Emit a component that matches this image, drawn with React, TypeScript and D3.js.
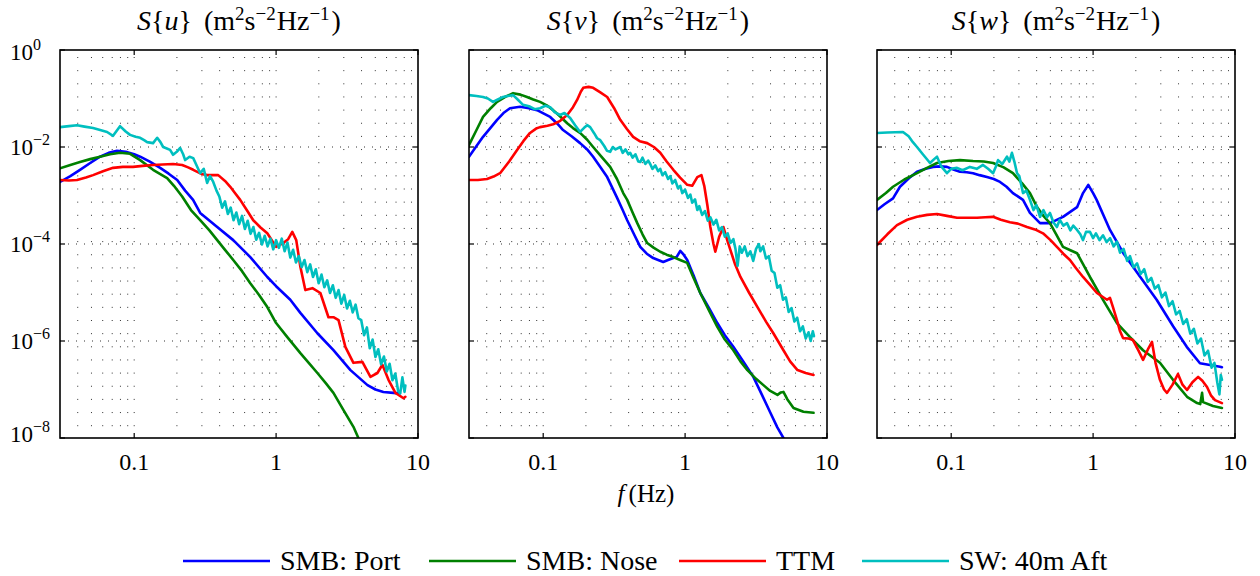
import React from 'react';
import * as d3 from 'd3';

// ---------- chart values ----------
const xTickValues = [0.1, 1, 10];
const xTickLabels = ['0.1', '1', '10'];
const yTickExponents = [0, -2, -4, -6, -8];
const yTickLabels = ['0', '−2', '−4', '−6', '−8'];
const panelVariables = ['u', 'v', 'w'];
const seriesNames = ['SMB: Port', 'SMB: Nose', 'TTM', 'SW: 40m Aft'];
const seriesColors = ['#0000ff', '#008000', '#ff0000', '#00bfbf'];

// Every series: [log10 f (Hz), log10 S] pairs
const uPort: [number, number][] = [[-1.523,-2.72],[-1.45,-2.6],[-1.382,-2.47],[-1.31,-2.33],[-1.241,-2.2],[-1.18,-2.12],[-1.121,-2.08],[-1.06,-2.1],[-1.0,-2.15],[-0.958,-2.2],[-0.89,-2.3],[-0.817,-2.43],[-0.757,-2.55],[-0.697,-2.68],[-0.641,-2.9],[-0.585,-3.09],[-0.535,-3.36],[-0.415,-3.65],[-0.302,-3.92],[-0.182,-4.27],[-0.062,-4.68],[0,-4.87],[0.1,-5.15],[0.171,-5.42],[0.291,-5.84],[0.404,-6.19],[0.524,-6.6],[0.644,-6.91],[0.7,-7.0],[0.756,-7.05],[0.827,-7.07],[0.87,-7.08]];
const uNose: [number, number][] = [[-1.523,-2.44],[-1.45,-2.37],[-1.382,-2.31],[-1.31,-2.25],[-1.241,-2.2],[-1.17,-2.15],[-1.1,-2.12],[-1.029,-2.14],[-0.958,-2.27],[-0.867,-2.47],[-0.768,-2.64],[-0.72,-2.8],[-0.662,-3.02],[-0.6,-3.3],[-0.535,-3.51],[-0.47,-3.72],[-0.415,-3.92],[-0.36,-4.12],[-0.302,-4.33],[-0.24,-4.56],[-0.182,-4.81],[-0.12,-5.05],[-0.062,-5.3],[0,-5.63],[0.079,-5.92],[0.171,-6.25],[0.23,-6.45],[0.291,-6.66],[0.35,-6.87],[0.404,-7.07],[0.474,-7.42],[0.545,-7.77],[0.58,-8.0],[0.62,-8.3]];
const uTTM: [number, number][] = [[-1.523,-2.68],[-1.46,-2.69],[-1.403,-2.68],[-1.34,-2.63],[-1.29,-2.58],[-1.22,-2.5],[-1.149,-2.43],[-1.08,-2.41],[-1.008,-2.41],[-0.94,-2.39],[-0.867,-2.37],[-0.8,-2.36],[-0.726,-2.35],[-0.662,-2.37],[-0.62,-2.42],[-0.584,-2.47],[-0.53,-2.55],[-0.486,-2.58],[-0.408,-2.58],[-0.36,-2.7],[-0.323,-2.82],[-0.29,-2.95],[-0.253,-3.09],[-0.2,-3.33],[-0.161,-3.51],[-0.11,-3.66],[-0.062,-3.78],[0,-4.06],[0.05,-3.98],[0.085,-3.9],[0.114,-3.75],[0.142,-3.92],[0.171,-4.47],[0.206,-4.95],[0.256,-4.91],[0.312,-5.01],[0.369,-5.51],[0.404,-5.51],[0.44,-5.57],[0.488,-6.12],[0.545,-6.45],[0.608,-6.43],[0.665,-6.74],[0.714,-6.66],[0.749,-6.49],[0.792,-6.8],[0.841,-7.07],[0.898,-7.18],[0.911,-7.15]];
const uSW: [number, number][] = [[-1.523,-1.59],[-1.46,-1.57],[-1.403,-1.55],[-1.35,-1.58],[-1.29,-1.61],[-1.24,-1.65],[-1.191,-1.69],[-1.149,-1.77],[-1.1,-1.57],[-1.06,-1.68],[-1.029,-1.75],[-0.99,-1.79],[-0.958,-1.81],[-0.93,-1.86],[-0.909,-1.9],[-0.867,-1.92],[-0.838,-1.81],[-0.815,-1.9],[-0.796,-2.0],[-0.77,-2.03],[-0.747,-2.06],[-0.726,-2.16],[-0.7,-2.1],[-0.676,-2.02],[-0.655,-2.15],[-0.641,-2.27],[-0.61,-2.2],[-0.584,-2.23],[-0.56,-2.38],[-0.535,-2.54],[-0.51,-2.45],[-0.486,-2.74],[-0.465,-2.6],[-0.443,-2.72],[-0.42,-2.9],[-0.40,-3.02],[-0.38,-3.25],[-0.36,-3.12],[-0.34,-3.38],[-0.32,-3.25],[-0.30,-3.51],[-0.28,-3.35],[-0.26,-3.59],[-0.24,-3.42],[-0.22,-3.69],[-0.20,-3.52],[-0.18,-3.79],[-0.16,-3.65],[-0.14,-3.91],[-0.12,-3.77],[-0.10,-4.01],[-0.08,-3.83],[-0.06,-4.05],[-0.04,-3.89],[-0.02,-4.11],[0.0,-3.92],[0.02,-4.08],[0.04,-3.89],[0.06,-4.15],[0.08,-3.97],[0.10,-4.28],[0.12,-4.12],[0.14,-4.38],[0.16,-4.25],[0.18,-4.48],[0.20,-4.33],[0.22,-4.58],[0.24,-4.42],[0.26,-4.68],[0.28,-4.52],[0.30,-4.81],[0.32,-4.63],[0.34,-4.89],[0.36,-4.75],[0.38,-5.01],[0.40,-4.85],[0.42,-5.11],[0.44,-4.95],[0.46,-5.23],[0.48,-5.05],[0.50,-5.33],[0.52,-5.17],[0.54,-5.41],[0.56,-5.25],[0.58,-5.53],[0.60,-5.57],[0.62,-5.88],[0.64,-5.72],[0.66,-6.15],[0.68,-5.97],[0.70,-6.33],[0.72,-6.17],[0.74,-6.48],[0.76,-6.32],[0.78,-6.63],[0.80,-6.47],[0.82,-6.81],[0.84,-6.67],[0.86,-7.03],[0.875,-7.08],[0.89,-6.75],[0.905,-7.05],[0.911,-6.92]];

const vPort: [number, number][] = [[-1.523,-2.2],[-1.47,-1.98],[-1.424,-1.79],[-1.37,-1.6],[-1.325,-1.44],[-1.28,-1.3],[-1.234,-1.2],[-1.163,-1.17],[-1.1,-1.2],[-1.043,-1.24],[-0.951,-1.38],[-0.9,-1.52],[-0.86,-1.65],[-0.8,-1.78],[-0.74,-1.92],[-0.69,-2.05],[-0.648,-2.2],[-0.6,-2.4],[-0.549,-2.62],[-0.479,-3.05],[-0.44,-3.3],[-0.408,-3.51],[-0.36,-3.8],[-0.316,-4.06],[-0.27,-4.2],[-0.225,-4.29],[-0.19,-4.33],[-0.154,-4.37],[-0.12,-4.33],[-0.083,-4.29],[-0.06,-4.27],[-0.034,-4.14],[-0.01,-4.22],[0.015,-4.33],[0.06,-4.65],[0.107,-5.01],[0.17,-5.33],[0.227,-5.63],[0.28,-5.88],[0.34,-6.12],[0.41,-6.42],[0.481,-6.74],[0.54,-7.1],[0.601,-7.48],[0.65,-7.78],[0.693,-8.0],[0.75,-8.35]];
const vNose: [number, number][] = [[-1.523,-1.96],[-1.47,-1.65],[-1.424,-1.38],[-1.37,-1.2],[-1.325,-1.07],[-1.27,-0.97],[-1.212,-0.89],[-1.16,-0.92],[-1.114,-0.97],[-1.07,-1.02],[-1.022,-1.07],[-0.975,-1.14],[-0.93,-1.24],[-0.88,-1.37],[-0.831,-1.51],[-0.79,-1.61],[-0.74,-1.71],[-0.69,-1.85],[-0.648,-2.0],[-0.59,-2.2],[-0.528,-2.41],[-0.48,-2.66],[-0.436,-2.95],[-0.408,-3.09],[-0.37,-3.35],[-0.337,-3.57],[-0.3,-3.8],[-0.267,-3.98],[-0.22,-4.08],[-0.175,-4.16],[-0.13,-4.22],[-0.083,-4.27],[-0.035,-4.33],[0.015,-4.39],[0.06,-4.7],[0.107,-5.01],[0.17,-5.38],[0.227,-5.71],[0.28,-5.97],[0.34,-6.19],[0.39,-6.42],[0.439,-6.6],[0.5,-6.78],[0.552,-6.91],[0.6,-7.03],[0.651,-7.11],[0.675,-7.06],[0.693,-7.05],[0.72,-7.2],[0.764,-7.38],[0.834,-7.46],[0.905,-7.48]];
const vTTM: [number, number][] = [[-1.523,-2.68],[-1.46,-2.68],[-1.396,-2.66],[-1.35,-2.61],[-1.304,-2.54],[-1.24,-2.3],[-1.184,-2.06],[-1.14,-1.88],[-1.093,-1.71],[-1.05,-1.62],[-1.022,-1.59],[-0.97,-1.56],[-0.93,-1.53],[-0.88,-1.46],[-0.831,-1.34],[-0.79,-1.18],[-0.761,-1.03],[-0.735,-0.86],[-0.718,-0.78],[-0.68,-0.76],[-0.648,-0.78],[-0.6,-0.87],[-0.549,-0.97],[-0.5,-1.2],[-0.457,-1.44],[-0.41,-1.63],[-0.366,-1.79],[-0.32,-1.88],[-0.267,-1.92],[-0.22,-2.0],[-0.175,-2.12],[-0.13,-2.3],[-0.083,-2.47],[-0.035,-2.63],[0.015,-2.78],[0.05,-2.8],[0.086,-2.62],[0.115,-2.58],[0.135,-2.8],[0.157,-3.2],[0.178,-3.65],[0.2,-4.0],[0.213,-4.16],[0.24,-3.85],[0.27,-3.65],[0.3,-3.95],[0.319,-4.12],[0.35,-4.4],[0.39,-4.68],[0.45,-5.0],[0.51,-5.3],[0.57,-5.6],[0.622,-5.84],[0.693,-6.19],[0.74,-6.42],[0.792,-6.6],[0.85,-6.66],[0.905,-6.7]];
const vSW: [number, number][] = [[-1.523,-0.93],[-1.47,-0.95],[-1.424,-0.97],[-1.39,-1.0],[-1.354,-1.07],[-1.32,-1.02],[-1.283,-0.97],[-1.25,-0.95],[-1.212,-0.93],[-1.18,-1.02],[-1.142,-1.13],[-1.10,-1.16],[-1.06,-1.22],[-1.022,-1.2],[-0.985,-1.15],[-0.951,-1.18],[-0.92,-1.28],[-0.881,-1.34],[-0.85,-1.3],[-0.81,-1.4],[-0.775,-1.55],[-0.74,-1.69],[-0.71,-1.6],[-0.69,-1.55],[-0.669,-1.59],[-0.64,-1.72],[-0.62,-1.82],[-0.598,-1.86],[-0.57,-1.98],[-0.55,-2.08],[-0.528,-2.1],[-0.51,-2.0],[-0.49,-2.05],[-0.457,-2.0],[-0.44,-2.12],[-0.42,-2.05],[-0.40,-2.15],[-0.387,-2.12],[-0.37,-2.22],[-0.35,-2.15],[-0.33,-2.3],[-0.316,-2.31],[-0.30,-2.22],[-0.28,-2.35],[-0.26,-2.28],[-0.246,-2.35],[-0.23,-2.45],[-0.21,-2.38],[-0.19,-2.5],[-0.175,-2.45],[-0.16,-2.58],[-0.14,-2.52],[-0.12,-2.66],[-0.104,-2.6],[-0.09,-2.75],[-0.07,-2.68],[-0.05,-2.85],[-0.034,-2.8],[-0.02,-2.95],[0.0,-2.88],[0.02,-3.05],[0.037,-2.98],[0.05,-3.15],[0.07,-3.08],[0.086,-3.3],[0.10,-3.22],[0.12,-3.4],[0.14,-3.32],[0.16,-3.52],[0.178,-3.45],[0.20,-3.6],[0.22,-3.5],[0.24,-3.72],[0.26,-3.65],[0.28,-3.85],[0.30,-3.78],[0.32,-3.98],[0.34,-3.9],[0.355,-4.1],[0.37,-4.45],[0.385,-4.05],[0.40,-4.18],[0.42,-4.05],[0.44,-4.25],[0.46,-4.15],[0.48,-4.35],[0.50,-4.1],[0.52,-4.0],[0.53,-4.15],[0.55,-4.05],[0.57,-4.3],[0.59,-4.25],[0.61,-4.55],[0.63,-4.6],[0.65,-4.9],[0.67,-4.85],[0.69,-5.15],[0.71,-5.1],[0.73,-5.4],[0.75,-5.32],[0.77,-5.6],[0.79,-5.52],[0.81,-5.8],[0.83,-5.7],[0.85,-5.95],[0.87,-5.82],[0.885,-6.0],[0.90,-5.8],[0.908,-5.9]];

const wPort: [number, number][] = [[-1.523,-3.3],[-1.47,-3.18],[-1.41,-3.06],[-1.361,-2.82],[-1.3,-2.65],[-1.241,-2.51],[-1.18,-2.45],[-1.128,-2.41],[-1.08,-2.4],[-1.03,-2.41],[-0.98,-2.47],[-0.938,-2.51],[-0.89,-2.52],[-0.846,-2.54],[-0.8,-2.58],[-0.748,-2.62],[-0.7,-2.66],[-0.656,-2.72],[-0.61,-2.82],[-0.565,-2.95],[-0.494,-3.09],[-0.445,-3.36],[-0.374,-3.57],[-0.304,-3.57],[-0.212,-3.44],[-0.113,-3.24],[-0.071,-2.95],[-0.034,-2.78],[0.0,-2.95],[0.025,-3.09],[0.119,-3.71],[0.213,-4.19],[0.33,-4.67],[0.448,-5.15],[0.565,-5.7],[0.66,-6.12],[0.753,-6.46],[0.894,-6.53],[0.908,-6.54]];
const wNose: [number, number][] = [[-1.523,-3.09],[-1.46,-2.95],[-1.41,-2.82],[-1.33,-2.67],[-1.241,-2.54],[-1.17,-2.43],[-1.1,-2.33],[-1.02,-2.29],[-0.938,-2.27],[-0.846,-2.29],[-0.77,-2.3],[-0.705,-2.33],[-0.63,-2.42],[-0.565,-2.54],[-0.5,-2.75],[-0.445,-2.95],[-0.395,-3.24],[-0.35,-3.42],[-0.304,-3.57],[-0.26,-3.8],[-0.212,-4.06],[-0.16,-4.13],[-0.113,-4.19],[-0.07,-4.42],[-0.022,-4.68],[0.07,-5.15],[0.168,-5.63],[0.26,-5.92],[0.352,-6.19],[0.471,-6.45],[0.563,-6.8],[0.662,-7.15],[0.733,-7.28],[0.755,-7.3],[0.768,-7.07],[0.775,-7.26],[0.845,-7.34],[0.908,-7.38]];
const wTTM: [number, number][] = [[-1.523,-4.02],[-1.45,-3.8],[-1.382,-3.61],[-1.31,-3.5],[-1.241,-3.44],[-1.17,-3.4],[-1.1,-3.38],[-1.03,-3.42],[-0.959,-3.46],[-0.89,-3.46],[-0.818,-3.46],[-0.76,-3.45],[-0.705,-3.44],[-0.65,-3.5],[-0.586,-3.55],[-0.53,-3.58],[-0.466,-3.65],[-0.41,-3.7],[-0.353,-3.78],[-0.3,-3.92],[-0.255,-4.06],[-0.21,-4.2],[-0.163,-4.33],[-0.12,-4.5],[-0.071,-4.68],[-0.02,-4.85],[0.027,-5.01],[0.098,-5.15],[0.119,-5.11],[0.14,-5.3],[0.168,-5.57],[0.19,-5.8],[0.211,-5.94],[0.25,-5.95],[0.281,-5.98],[0.32,-6.2],[0.352,-6.39],[0.39,-6.15],[0.415,-6.02],[0.44,-6.45],[0.471,-6.8],[0.5,-7.0],[0.521,-7.07],[0.56,-6.9],[0.598,-6.68],[0.63,-6.9],[0.662,-7.01],[0.7,-6.85],[0.74,-6.74],[0.77,-6.82],[0.803,-6.95],[0.83,-7.12],[0.859,-7.22],[0.908,-7.28]];
const wSW: [number, number][] = [[-1.523,-1.71],[-1.45,-1.7],[-1.34,-1.69],[-1.30,-1.78],[-1.27,-1.9],[-1.241,-2.0],[-1.2,-2.15],[-1.149,-2.33],[-1.12,-2.25],[-1.1,-2.2],[-1.07,-2.4],[-1.03,-2.54],[-1.0,-2.45],[-0.959,-2.43],[-0.92,-2.48],[-0.868,-2.41],[-0.82,-2.45],[-0.776,-2.37],[-0.74,-2.45],[-0.705,-2.54],[-0.685,-2.4],[-0.67,-2.27],[-0.64,-2.35],[-0.607,-2.2],[-0.59,-2.3],[-0.572,-2.12],[-0.555,-2.3],[-0.536,-2.54],[-0.52,-2.6],[-0.494,-2.95],[-0.47,-2.9],[-0.445,-3.09],[-0.42,-3.3],[-0.40,-3.2],[-0.374,-3.44],[-0.35,-3.3],[-0.325,-3.45],[-0.304,-3.36],[-0.28,-3.55],[-0.255,-3.65],[-0.235,-3.5],[-0.21,-3.62],[-0.184,-3.57],[-0.16,-3.72],[-0.14,-3.62],[-0.113,-3.71],[-0.09,-3.8],[-0.071,-3.92],[-0.05,-3.75],[-0.022,-3.75],[0.0,-3.88],[0.02,-3.78],[0.045,-3.92],[0.07,-3.82],[0.095,-3.96],[0.12,-3.88],[0.145,-4.05],[0.168,-3.95],[0.19,-4.18],[0.215,-4.1],[0.24,-4.35],[0.26,-4.25],[0.285,-4.48],[0.31,-4.4],[0.335,-4.62],[0.36,-4.52],[0.385,-4.78],[0.41,-4.7],[0.435,-4.92],[0.46,-4.85],[0.485,-5.1],[0.51,-5.0],[0.535,-5.28],[0.56,-5.18],[0.585,-5.45],[0.61,-5.38],[0.635,-5.65],[0.66,-5.55],[0.685,-5.85],[0.71,-5.75],[0.735,-6.05],[0.76,-5.95],[0.785,-6.3],[0.81,-6.2],[0.835,-6.55],[0.855,-6.45],[0.875,-6.85],[0.89,-7.1],[0.9,-6.7],[0.908,-6.8]];

const panelSeries = [
  [uPort, uNose, uTTM, uSW],
  [vPort, vNose, vTTM, vSW],
  [wPort, wNose, wTTM, wSW],
];

// ---------- layout ----------
const W = 1260;
const H = 576;
const PANEL_LEFTS = [60, 469, 877];
const PW = 358;
const TOP = 50;
const PH = 388;
const FONT = 'Liberation Serif';

const xScale = d3.scaleLog().domain([0.03, 10]).range([0, PW]);
const yScale = d3.scaleLog().domain([1e-8, 1]).range([PH, 0]);

const gridXs: number[] = [];
[0.01, 0.1, 1].forEach((dec) => {
  for (let m = 1; m <= 9; m++) {
    const v = m * dec;
    if (v > 0.0301 && v < 9.99) gridXs.push(v);
  }
});

function Label(props: any) {
  const { children, size, ...rest } = props;
  return (
    <text {...rest} fontSize={size} fontFamily={FONT} style={{ fontFamily: FONT }}>
      {children}
    </text>
  );
}

function Panel({ idx }: { idx: number }) {
  const left = PANEL_LEFTS[idx];
  const line = d3
    .line<[number, number]>()
    .x((d) => xScale(Math.pow(10, d[0])))
    .y((d) => yScale(Math.pow(10, d[1])));
  const clipId = `clip${idx}`;
  const v = panelVariables[idx];
  const cx = left + PW / 2;
  return (
    <g>
      <g transform={`translate(${left},${TOP})`}>
        <defs>
          <clipPath id={clipId}>
            <rect x={0} y={0} width={PW} height={PH} />
          </clipPath>
        </defs>
        {gridXs.map((g, i) => (
          <line key={`gx${i}`} x1={xScale(g)} x2={xScale(g)} y1={7} y2={PH}
            stroke="#333" strokeWidth={1} strokeDasharray="1 12.15" />
        ))}
        {yTickExponents.slice(1, -1).map((e, i) => (
          <line key={`gy${i}`} x1={0} x2={PW} y1={yScale(Math.pow(10, e))} y2={yScale(Math.pow(10, e))}
            stroke="#333" strokeWidth={1} strokeDasharray="1 7" />
        ))}
        <g clipPath={`url(#${clipId})`}>
          {panelSeries[idx].map((s, i) => (
            <path key={`s${i}`} d={line(s) || ''} fill="none" stroke={seriesColors[i]}
              strokeWidth={2.6} strokeLinejoin="round" strokeLinecap="round" />
          ))}
        </g>
        {xTickValues.map((t, i) => (
          <g key={`xt${i}`}>
            <line x1={xScale(t)} x2={xScale(t)} y1={PH} y2={PH - 5} stroke="#000" strokeWidth={1.2} />
            <line x1={xScale(t)} x2={xScale(t)} y1={0} y2={5} stroke="#000" strokeWidth={1.2} />
          </g>
        ))}
        {yTickExponents.map((e, i) => (
          <g key={`yt${i}`}>
            <line x1={0} x2={5} y1={yScale(Math.pow(10, e))} y2={yScale(Math.pow(10, e))} stroke="#000" strokeWidth={1.2} />
            <line x1={PW} x2={PW - 5} y1={yScale(Math.pow(10, e))} y2={yScale(Math.pow(10, e))} stroke="#000" strokeWidth={1.2} />
          </g>
        ))}
        <rect x={0} y={0} width={PW} height={PH} fill="none" stroke="#000" strokeWidth={1.6} />
      </g>
      {xTickValues.map((t, i) => (
        <Label key={`xl${i}`} x={left + xScale(t)} y={TOP + PH + 32} textAnchor="middle" size={24}>
          {xTickLabels[i]}
        </Label>
      ))}
      {idx === 0 &&
        yTickExponents.map((e, i) => {
          const yy = Math.min(Math.max(TOP + yScale(Math.pow(10, e)) + 8, 60), TOP + PH + 4);
          return (
            <Label key={`yl${i}`} x={10} y={yy} size={23}>
              <tspan>10</tspan>
              <tspan fontSize={16} dy={-10}>{yTickLabels[i]}</tspan>
            </Label>
          );
        })}
      <Label x={cx} y={30} textAnchor="middle" size={28}>
        <tspan fontStyle="italic">S</tspan>
        <tspan>{'{'}</tspan>
        <tspan fontStyle="italic">{v}</tspan>
        <tspan>{'}'}</tspan>
        <tspan dx={12}>(m</tspan>
        <tspan fontSize={19} dy={-10}>2</tspan>
        <tspan dy={10}>s</tspan>
        <tspan fontSize={19} dy={-10}>−2</tspan>
        <tspan dy={10} dx={1}>Hz</tspan>
        <tspan fontSize={19} dy={-10}>−1</tspan>
        <tspan dy={10} dx={2}>)</tspan>
      </Label>
    </g>
  );
}

const legendLineX = [183, 429, 679, 862];

export default function App() {
  return (
    <svg width={W} height={H} style={{ position: 'absolute', left: 0, top: 0, background: '#fff' }}>
      <rect x={0} y={0} width={W} height={H} fill="#fff" />
      {[0, 1, 2].map((i) => (
        <Panel key={i} idx={i} />
      ))}
      <Label x={646} y={502} textAnchor="middle" size={25}>
        <tspan fontStyle="italic">f</tspan>
        <tspan dx={4}>(Hz)</tspan>
      </Label>
      {seriesNames.map((n, i) => (
        <g key={`lg${i}`}>
          <line x1={legendLineX[i]} x2={legendLineX[i] + 87} y1={561} y2={561} stroke={seriesColors[i]} strokeWidth={2.7} />
          <Label x={legendLineX[i] + 97} y={570} size={28}>{n}</Label>
        </g>
      ))}
    </svg>
  );
}
